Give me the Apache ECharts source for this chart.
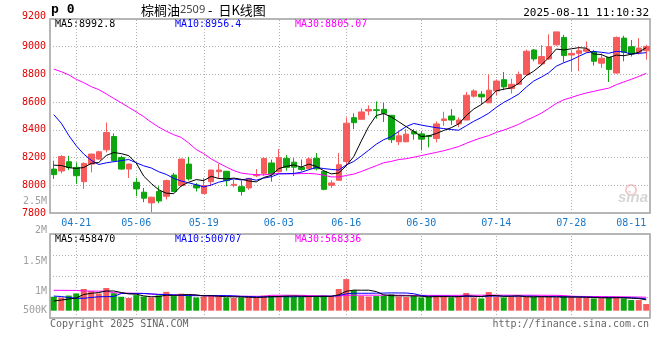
<!DOCTYPE html>
<html><head><meta charset="utf-8">
<script src="https://cdn.jsdelivr.net/npm/echarts@6/dist/echarts.min.js"></script>
<style>html,body{margin:0;padding:0;background:#fff}#c{width:660px;height:360px}</style>
</head><body><div id="c"></div>
<script>
const dates = ['04-16','04-17','04-18','04-21','04-22','04-23','04-24','04-25','04-28','04-29','04-30',
'05-06','05-07','05-08','05-09','05-12','05-13','05-14','05-15','05-16','05-19','05-20','05-21','05-22','05-23','05-26','05-27','05-28','05-29','05-30',
'06-03','06-04','06-05','06-06','06-09','06-10','06-11','06-12','06-13','06-16','06-17','06-18','06-19','06-20','06-23','06-24','06-25','06-26','06-27','06-30',
'07-01','07-02','07-03','07-04','07-07','07-08','07-09','07-10','07-11','07-14','07-15','07-16','07-17','07-18','07-21','07-22','07-23','07-24','07-25','07-28','07-29','07-30','07-31',
'08-01','08-04','08-05','08-06','08-07','08-08','08-11'];
const opens  = [8117,8103,8170,8129,8026,8153,8189,8256,8352,8201, 8117,8022,7950,7873,7955,7921,8074,7998,8153,8002,
                7940,8026,8098,8101,8000,7990,7981,8069,8086,8161, 8098,8194,8167,8129,8119,8195,8100,8000,8036,8171,
                8488,8476,8536,8545,8548,8505,8314,8314,8388,8371, 8357,8338,8467,8500,8443,8471,8643,8657,8595,8681,
                8762,8698,8729,8798,8976,8876,8912,9014,9067,8940, 8952,8967,8964,8881,8924,8810,9062,9000,8960,8971];
const closes = [8077,8208,8129,8069,8158,8225,8242,8381,8177,8117, 8153,7974,7907,7914,7887,8034,7955,8189,8046,7981,
                7998,8110,8110,8034,8007,7955,8050,8077,8194,8081, 8200,8129,8131,8114,8190,8119,7971,8017,8148,8448,
                8452,8529,8548,8540,8519,8329,8357,8369,8371,8333, 8352,8443,8479,8471,8471,8650,8681,8638,8686,8752,
                8710,8729,8800,8967,8912,8929,9000,9107,8936,8952, 8971,8983,8895,8917,8836,9067,8960,8948,8990,9002];
const lows   = [8046,8086,8110,8010,7974,8093,8184,8237,8170,8113, 8053,7921,7878,7806,7871,7897,7950,7990,8034,7955,
                7940,7993,8046,7993,7986,7926,7967,8058,8069,8026, 8093,8105,8067,8100,8119,8107,7964,7981,8036,8138,
                8405,8476,8505,8481,8457,8305,8290,8310,8329,8252, 8274,8310,8429,8436,8419,8471,8633,8586,8595,8650,
                8686,8662,8726,8793,8895,8864,8905,9007,8888,8824, 8824,8957,8864,8848,8745,8805,8895,8929,8943,8907];
const highs  = [8177,8218,8213,8165,8165,8228,8249,8453,8374,8213, 8156,8053,7981,7917,7993,8041,8089,8194,8206,8017,
                8053,8112,8153,8103,8041,8034,8053,8117,8201,8185, 8261,8218,8195,8186,8202,8233,8107,8036,8233,8490,
                8519,8555,8576,8605,8595,8505,8386,8405,8405,8388, 8364,8460,8531,8550,8490,8674,8693,8679,8800,8764,
                8817,8769,8821,8979,8983,9012,9090,9107,9086,8976, 9000,9038,8976,8952,8924,9074,9079,9048,9062,9014];
const volumes = [590,560,640,730,920,830,730,960,740,590, 540,660,600,560,650,800,620,720,640,560,
                 600,650,600,560,540,560,600,540,640,630, 610,640,600,580,600,620,640,590,920,1340,
                 870,620,600,620,640,700,600,580,620,560, 580,640,600,560,600,750,560,520,790,600,
                 560,600,600,590,580,590,580,560,600,583, 560,540,520,530,565,588,520,451,451,282].map(v => v * 1000);
// moving-average values before enough history exists in the window
const ma5Head  = [8145,8143,8127,8122];
const ma10Head = [8510,8448,8360,8285,8225,8180,8150,8162,8170];
const ma30Head = [8838,8820,8797,8765,8740,8712,8690,8660,8627,8595,8562,8530,8495,8455,8420,8390,8365,8345,8305,8258,
                  8228,8190,8160,8132,8106,8088,8081,8077,8075];
const volMa5Head  = [409000,450000,494000,540000];
const volMa10Head = [620000,600000,560000,525000,525000,560000,590000,595000,600000];
const volMa30Head = [863000,863000,860000,858000,835000,830000,830000,828000,760000,750000,745000,735000,730000,700000,695000,
                     690000,665000,665000,660000,660000,630000,625000,620000,620000,615000,615000,610000,610000,610000];
const dateLabels = ['04-21','05-06','05-19','06-03','06-16','06-30','07-14','07-28','08-11'];
const priceMin = 7800, priceMax = 9200, priceStep = 200;
const volLabels = ['2.5M','2M','1.5M','1M','500K'];

function movingAvg(src, n, head) {
  return src.map((v, i) => {
    if (i < n - 1) return head[i];
    let s = 0;
    for (let k = i - n + 1; k <= i; k++) s += src[k];
    return s / n;
  });
}

const UP = '#f65c5c', DOWN = '#0ea60e';
const MONO = 'DejaVu Sans Mono';
const kData = opens.map((o, i) => [o, closes[i], lows[i], highs[i]]);
const volData = volumes.map((v, i) => ({
  value: v,
  itemStyle: { color: closes[i] >= opens[i] ? UP : DOWN }
}));
const gridMark = {
  silent: true, symbol: ['none', 'none'], label: { show: false }, z: 1, animation: false,
  lineStyle: { color: '#b0b0b0', type: [1, 2], width: 1 },
  emphasis: { disabled: true },
  data: dateLabels.slice(0, -1).map(d => ({ xAxis: d }))
};
const lineBase = (name, data, color, xi, yi) => ({
  name, type: 'line', data, xAxisIndex: xi, yAxisIndex: yi, showSymbol: false, symbol: 'none',
  lineStyle: { color, width: 1 }, silent: true, animation: false, z: 4
});

const txt = (x, y, text, fill, opts = {}) => ({
  type: 'text', x, y, silent: true,
  style: Object.assign({ text, fill, font: '10px "' + MONO + '"', textVerticalAlign: 'middle' }, opts)
});

const chart = echarts.init(document.getElementById('c'), null, { renderer: 'canvas' });
chart.setOption({
  animation: false,
  backgroundColor: '#fff',
  grid: [
    { left: 50, right: 10, top: 19, height: 194, show: true, borderColor: '#a0a0a0', borderWidth: 1.5 },
    { left: 50, right: 10, top: 234, height: 84, show: true, borderColor: '#a0a0a0', borderWidth: 1.5 }
  ],
  xAxis: [
    { type: 'category', data: dates, gridIndex: 0, boundaryGap: true,
      axisLine: { show: false }, axisTick: { show: false }, splitLine: { show: false },
      axisLabel: { interval: (i, v) => dateLabels.includes(v), color: '#1a78c8', fontFamily: MONO, fontSize: 10,
                   margin: 5, alignMaxLabel: 'right', showMaxLabel: true } },
    { type: 'category', data: dates, gridIndex: 1, boundaryGap: true,
      axisLine: { show: false }, axisTick: { show: false }, axisLabel: { show: false }, splitLine: { show: false } }
  ],
  yAxis: [
    { type: 'value', gridIndex: 0, min: priceMin, max: priceMax, interval: priceStep,
      axisLine: { show: false }, axisTick: { show: false },
      axisLabel: { color: '#e00000', fontFamily: MONO, fontSize: 10, margin: 4, showMaxLabel: false,
                   formatter: v => String(v) },
      splitLine: { show: true, lineStyle: { color: '#b0b0b0', type: [1, 2], width: 1 } } },
    { type: 'value', gridIndex: 1, min: -310000, max: 3250000, show: false,
      splitLine: { show: false } },
    { type: 'value', gridIndex: 1, min: 0, max: 4, interval: 1,
      axisLine: { show: false }, axisTick: { show: false }, axisLabel: { show: false },
      splitLine: { show: true, lineStyle: { color: '#b0b0b0', type: [1, 2], width: 1 } } }
  ],
  series: [
    { name: 'K', type: 'candlestick', data: kData, xAxisIndex: 0, yAxisIndex: 0, barWidth: 6, z: 3,
      itemStyle: { color: UP, color0: DOWN, borderColor: UP, borderColor0: DOWN, borderWidth: 1 },
      silent: true, animation: false, markLine: gridMark },
    lineBase('MA30', movingAvg(closes, 30, ma30Head), '#ff00ff', 0, 0),
    lineBase('MA10', movingAvg(closes, 10, ma10Head), '#0000ff', 0, 0),
    lineBase('MA5', movingAvg(closes, 5, ma5Head), '#000000', 0, 0),
    { name: 'VOL', type: 'bar', data: volData, xAxisIndex: 1, yAxisIndex: 1, barWidth: 6, z: 3,
      silent: true, animation: false, markLine: gridMark },
    lineBase('VMA30', movingAvg(volumes, 30, volMa30Head), '#ff00ff', 1, 1),
    lineBase('VMA10', movingAvg(volumes, 10, volMa10Head), '#0000ff', 1, 1),
    lineBase('VMA5', movingAvg(volumes, 5, volMa5Head), '#000000', 1, 1)
  ],
  graphic: [
    txt(46, 16, String(priceMax), '#e00000', { textAlign: 'right' }),
    { type: 'text', x: 51, y: 10, silent: true,
      style: { text: 'p 0', fill: '#000', font: 'bold 13px "' + MONO + '"', textVerticalAlign: 'middle' } },
    { type: 'text', x: 141, y: 10, silent: true,
      style: { text: '{a|棕榈油}{b|2509}{a| -  日K线图}', textVerticalAlign: 'middle',
        rich: { a: { fill: '#000', font: '13px "Noto Sans CJK SC"' },
                b: { fill: '#444', font: '11px "Noto Sans"' } } } },
    txt(649, 13, '2025-08-11 11:10:32', '#000', { textAlign: 'right', font: '11px "' + MONO + '"' }),
    txt(55, 24, 'MA5:8992.8', '#000'),
    txt(175, 24, 'MA10:8956.4', '#0000ff'),
    txt(295, 24, 'MA30:8805.07', '#ff00ff'),
    txt(55, 239, 'MA5:458470', '#000'),
    txt(175, 239, 'MA10:500707', '#0000ff'),
    txt(295, 239, 'MA30:568336', '#ff00ff'),
    txt(47, 201, volLabels[0], '#a0a0a0', { textAlign: 'right' }),
    txt(47, 230, volLabels[1], '#a0a0a0', { textAlign: 'right' }),
    txt(47, 261, volLabels[2], '#a0a0a0', { textAlign: 'right' }),
    txt(47, 291, volLabels[3], '#a0a0a0', { textAlign: 'right' }),
    txt(47, 310, volLabels[4], '#a0a0a0', { textAlign: 'right' }),
    txt(50, 324, 'Copyright 2025 SINA.COM', '#666'),
    txt(649, 324, 'http://finance.sina.com.cn', '#666', { textAlign: 'right' }),
    { type: 'circle', shape: { cx: 631, cy: 190, r: 5 }, silent: true, z: 0,
      style: { fill: 'none', stroke: '#f3c8c8', lineWidth: 2 } },
    { type: 'text', x: 618, y: 198, silent: true, z: 0,
      style: { text: 'sina', fill: '#d6d6d6', font: 'italic bold 15px "Liberation Sans"', textVerticalAlign: 'middle' } }
  ]
});
</script></body></html>
